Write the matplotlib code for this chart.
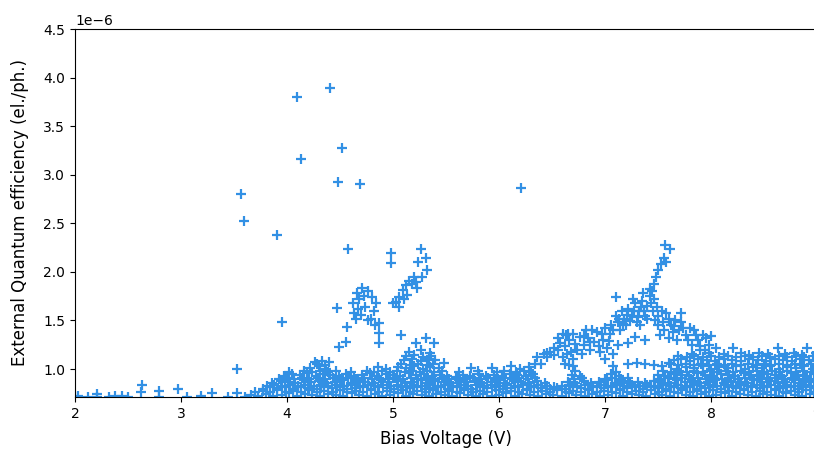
import matplotlib
matplotlib.use("Agg")
import matplotlib.pyplot as plt
import numpy as np

# values, y in units of 1e-6 el./ph.
left_tail = [(2.00, 0.71), (2.03, 0.72), (2.12, 0.71), (2.21, 0.74), (2.21, 0.71), (2.32, 0.71),
             (2.38, 0.72), (2.44, 0.72), (2.50, 0.71), (2.62, 0.76), (2.63, 0.84), (2.79, 0.77),
             (2.79, 0.71), (2.97, 0.79), (3.06, 0.71), (3.19, 0.72), (3.29, 0.75), (3.44, 0.71),
             (3.53, 0.75), (3.60, 0.71)]

outliers = [(3.57, 2.80), (3.59, 2.52), (3.53, 1.00), (3.91, 2.38), (3.95, 1.48), (4.09, 3.80),
            (4.13, 3.16), (4.41, 3.89), (4.52, 3.27), (4.48, 2.93), (4.69, 2.90), (4.58, 2.24),
            (4.47, 1.63), (4.57, 1.43), (4.49, 1.23), (4.56, 1.28), (6.21, 2.86)]

band_row1 = [(3.66, 0.73), (3.73, 0.72), (3.80, 0.74), (3.87, 0.72), (3.95, 0.73), (4.02, 0.75),
             (4.09, 0.72), (4.17, 0.74), (4.24, 0.73), (4.31, 0.72), (4.39, 0.74), (4.46, 0.73),
             (4.53, 0.72), (4.61, 0.75), (4.68, 0.73), (4.75, 0.72), (4.83, 0.74), (4.90, 0.72),
             (4.97, 0.73), (5.05, 0.75), (5.12, 0.72), (5.19, 0.74), (5.27, 0.73), (5.34, 0.72),
             (5.41, 0.74), (5.49, 0.73), (5.56, 0.72), (5.63, 0.75), (5.71, 0.73), (5.78, 0.72),
             (5.85, 0.74), (5.93, 0.72), (6.00, 0.73), (6.07, 0.75), (6.15, 0.72), (6.22, 0.74),
             (6.29, 0.73), (6.37, 0.72), (6.44, 0.74), (6.51, 0.73), (6.59, 0.72), (6.66, 0.75),
             (6.73, 0.73), (6.81, 0.72), (6.88, 0.74), (6.95, 0.72), (7.03, 0.73), (7.10, 0.75),
             (7.17, 0.72), (7.25, 0.74), (7.32, 0.73), (7.39, 0.72), (7.47, 0.74), (7.54, 0.73),
             (7.61, 0.72), (7.69, 0.75), (7.76, 0.73), (7.83, 0.72), (7.91, 0.74), (7.98, 0.72),
             (8.05, 0.73), (8.13, 0.75), (8.20, 0.72), (8.27, 0.74), (8.35, 0.73), (8.42, 0.72),
             (8.49, 0.74), (8.57, 0.73), (8.64, 0.72), (8.71, 0.75), (8.79, 0.73), (8.86, 0.72),
             (8.93, 0.74), (9.01, 0.72)]

band_row1b = [(3.70, 0.76), (3.77, 0.77), (3.84, 0.76), (3.91, 0.78), (3.99, 0.76), (4.06, 0.77),
              (4.13, 0.76), (4.21, 0.78), (4.28, 0.76), (4.35, 0.77), (4.43, 0.76), (4.50, 0.78),
              (4.57, 0.76), (4.65, 0.77), (4.72, 0.76), (4.79, 0.78), (4.87, 0.76), (4.94, 0.77),
              (5.01, 0.76), (5.09, 0.78), (5.16, 0.76), (5.23, 0.77), (5.31, 0.76), (5.38, 0.78),
              (5.45, 0.76), (5.53, 0.77), (5.60, 0.76), (5.67, 0.78), (5.75, 0.76), (5.82, 0.77),
              (5.89, 0.76), (5.97, 0.78), (6.04, 0.76), (6.11, 0.77), (6.19, 0.76), (6.26, 0.78),
              (6.33, 0.76), (6.41, 0.77), (6.48, 0.76), (6.55, 0.78), (6.63, 0.76), (6.70, 0.77),
              (6.77, 0.76), (6.85, 0.78), (6.92, 0.76), (6.99, 0.77), (7.07, 0.76), (7.14, 0.78),
              (7.21, 0.76), (7.29, 0.77), (7.36, 0.76), (7.43, 0.78), (7.51, 0.76), (7.58, 0.77),
              (7.65, 0.76), (7.73, 0.78), (7.80, 0.76), (7.87, 0.77), (7.95, 0.76), (8.02, 0.78),
              (8.09, 0.76), (8.17, 0.77), (8.24, 0.76), (8.31, 0.78), (8.39, 0.76), (8.46, 0.77),
              (8.53, 0.76), (8.61, 0.78), (8.68, 0.76), (8.75, 0.77), (8.83, 0.76), (8.90, 0.78),
              (8.97, 0.76), (9.05, 0.77)]

band_row2 = [(3.77, 0.79), (3.84, 0.81), (3.91, 0.80), (3.98, 0.82), (4.06, 0.79), (4.13, 0.81),
             (4.20, 0.80), (4.28, 0.79), (4.35, 0.82), (4.42, 0.80), (4.50, 0.81), (4.57, 0.79),
             (4.64, 0.80), (4.72, 0.82), (4.79, 0.79), (4.86, 0.81), (4.94, 0.80), (5.01, 0.79),
             (5.08, 0.82), (5.16, 0.80), (5.23, 0.81), (5.30, 0.79), (5.38, 0.80), (5.45, 0.82),
             (5.52, 0.79), (5.60, 0.81), (5.67, 0.80), (5.74, 0.79), (5.82, 0.82), (5.89, 0.80),
             (5.96, 0.81), (6.04, 0.79), (6.11, 0.80), (6.18, 0.82), (6.26, 0.79), (6.33, 0.81),
             (6.40, 0.80), (6.48, 0.79), (6.55, 0.80), (6.62, 0.79), (6.70, 0.81), (6.77, 0.80),
             (6.84, 0.79), (6.92, 0.82), (6.99, 0.80), (7.06, 0.81), (7.14, 0.79), (7.21, 0.80),
             (7.28, 0.82), (7.36, 0.79), (7.43, 0.81), (7.50, 0.80), (7.58, 0.79), (7.65, 0.82),
             (7.72, 0.80), (7.80, 0.81), (7.87, 0.79), (7.94, 0.80), (8.02, 0.82), (8.09, 0.79),
             (8.16, 0.81), (8.24, 0.80), (8.31, 0.79), (8.38, 0.82), (8.46, 0.80), (8.53, 0.81),
             (8.60, 0.79), (8.68, 0.80), (8.75, 0.82), (8.82, 0.79), (8.90, 0.81), (8.97, 0.80),
             (9.04, 0.79)]

band_row2b = [(3.81, 0.83), (3.88, 0.84), (3.95, 0.83), (4.03, 0.84), (4.10, 0.83), (4.17, 0.84),
              (4.25, 0.83), (4.32, 0.84), (4.39, 0.83), (4.47, 0.84), (4.54, 0.83), (4.61, 0.84),
              (4.69, 0.83), (4.76, 0.84), (4.83, 0.83), (4.91, 0.84), (4.98, 0.83), (5.05, 0.84),
              (5.13, 0.83), (5.20, 0.84), (5.27, 0.83), (5.35, 0.84), (5.42, 0.83), (5.49, 0.84),
              (5.57, 0.83), (5.64, 0.84), (5.71, 0.83), (5.79, 0.84), (5.86, 0.83), (5.93, 0.84),
              (6.01, 0.83), (6.08, 0.84), (6.15, 0.83), (6.23, 0.84), (6.30, 0.83), (6.37, 0.84),
              (6.45, 0.83), (6.52, 0.82), (6.59, 0.83), (6.67, 0.84), (6.74, 0.83), (6.81, 0.84),
              (6.89, 0.83), (6.96, 0.84), (7.03, 0.83), (7.11, 0.84), (7.18, 0.83), (7.25, 0.84),
              (7.33, 0.83), (7.40, 0.84), (7.47, 0.83), (7.55, 0.84), (7.62, 0.83), (7.69, 0.84),
              (7.77, 0.83), (7.84, 0.84), (7.91, 0.83), (7.99, 0.84), (8.06, 0.83), (8.13, 0.84),
              (8.21, 0.83), (8.28, 0.84), (8.35, 0.83), (8.43, 0.84), (8.50, 0.83), (8.57, 0.84),
              (8.65, 0.83), (8.72, 0.84), (8.79, 0.83), (8.87, 0.84), (8.94, 0.83), (9.01, 0.84),
              (9.08, 0.83)]

band_row3 = [(3.86, 0.86), (3.94, 0.88), (4.01, 0.87), (4.08, 0.86), (4.16, 0.89), (4.23, 0.87),
             (4.30, 0.88), (4.38, 0.86), (4.45, 0.87), (4.52, 0.89), (4.60, 0.86), (4.67, 0.88),
             (4.74, 0.87), (4.82, 0.86), (4.89, 0.89), (4.96, 0.87), (5.04, 0.88), (5.11, 0.86),
             (5.18, 0.87), (5.26, 0.89), (5.33, 0.86), (5.40, 0.88), (5.48, 0.87), (5.55, 0.86),
             (5.62, 0.89), (5.70, 0.87), (5.77, 0.88), (5.84, 0.86), (5.92, 0.87), (5.99, 0.89),
             (6.06, 0.86), (6.14, 0.88), (6.21, 0.87), (6.28, 0.86), (6.36, 0.88), (6.43, 0.86),
             (6.65, 0.87), (6.72, 0.86), (6.80, 0.88), (6.87, 0.86), (6.94, 0.87), (7.02, 0.89),
             (7.09, 0.86), (7.16, 0.88), (7.24, 0.86), (7.31, 0.87), (7.38, 0.86), (7.46, 0.88),
             (7.53, 0.87), (7.60, 0.86), (7.68, 0.89), (7.75, 0.87), (7.82, 0.88), (7.90, 0.86),
             (7.97, 0.87), (8.04, 0.89), (8.12, 0.86), (8.19, 0.88), (8.26, 0.87), (8.34, 0.86),
             (8.41, 0.89), (8.48, 0.87), (8.56, 0.88), (8.63, 0.86), (8.70, 0.87), (8.78, 0.89),
             (8.85, 0.86), (8.92, 0.88), (9.00, 0.87), (9.07, 0.86)]

band_row3b = [(3.92, 0.90), (3.99, 0.91), (4.07, 0.90), (4.14, 0.91), (4.21, 0.90), (4.29, 0.91),
              (4.36, 0.90), (4.43, 0.91), (4.51, 0.90), (4.58, 0.91), (4.65, 0.90), (4.73, 0.91),
              (4.80, 0.90), (4.87, 0.91), (4.95, 0.90), (5.02, 0.91), (5.09, 0.90), (5.17, 0.91),
              (5.24, 0.90), (5.31, 0.91), (5.39, 0.90), (5.46, 0.91), (5.53, 0.90), (5.61, 0.91),
              (5.68, 0.90), (5.75, 0.91), (5.83, 0.90), (5.90, 0.91), (5.97, 0.90), (6.05, 0.91),
              (6.12, 0.90), (6.19, 0.91), (6.27, 0.90), (6.34, 0.91), (6.71, 0.90), (6.78, 0.91),
              (7.00, 0.90), (7.07, 0.91), (7.15, 0.90), (7.22, 0.91), (7.51, 0.90), (7.59, 0.91),
              (7.66, 0.90), (7.73, 0.91), (7.81, 0.90), (7.88, 0.91), (7.95, 0.90), (8.03, 0.91),
              (8.10, 0.90), (8.17, 0.91), (8.25, 0.90), (8.32, 0.91), (8.39, 0.90), (8.47, 0.91),
              (8.54, 0.90), (8.61, 0.91), (8.69, 0.90), (8.76, 0.91), (8.83, 0.90), (8.91, 0.91),
              (8.98, 0.90), (9.05, 0.91)]

band_row4 = [(3.97, 0.93), (4.05, 0.95), (4.12, 0.94), (4.19, 0.96), (4.27, 0.93), (4.34, 0.95),
             (4.41, 0.94), (4.49, 0.93), (4.56, 0.95), (4.63, 0.93), (4.71, 0.94), (4.78, 0.96),
             (4.85, 0.93), (4.93, 0.95), (5.00, 0.94), (5.07, 0.93), (5.15, 0.96), (5.22, 0.94),
             (5.29, 0.95), (5.37, 0.93), (5.44, 0.94), (5.51, 0.93), (5.59, 0.92), (5.66, 0.94),
             (5.73, 0.93), (5.81, 0.95), (5.88, 0.93), (5.95, 0.94), (6.03, 0.93), (6.10, 0.95),
             (6.17, 0.94), (6.25, 0.93), (6.32, 0.95), (6.69, 0.94), (6.76, 0.93), (7.06, 0.95),
             (7.13, 0.93), (7.50, 0.94), (7.57, 0.93), (7.65, 0.95), (7.72, 0.94), (7.79, 0.93),
             (7.87, 0.96), (7.94, 0.94), (8.01, 0.93), (8.09, 0.95), (8.16, 0.94), (8.23, 0.93),
             (8.31, 0.96), (8.38, 0.94), (8.45, 0.93), (8.53, 0.95), (8.60, 0.94), (8.67, 0.93),
             (8.75, 0.96), (8.82, 0.94), (8.89, 0.93), (8.97, 0.95), (9.04, 0.94)]

band_row4b = [(4.02, 0.97), (4.16, 0.98), (4.24, 0.97), (4.31, 0.98), (4.39, 0.97), (4.46, 0.98),
              (4.60, 0.97), (4.75, 0.98), (4.82, 0.97), (4.90, 0.98), (4.97, 0.97), (5.04, 0.98),
              (5.11, 0.97), (5.18, 0.98), (5.25, 0.97), (5.32, 0.98), (5.39, 0.97), (5.46, 0.98),
              (5.62, 0.97), (5.80, 0.98), (5.98, 0.97), (6.05, 0.98), (6.16, 0.97), (6.24, 0.98),
              (6.30, 0.97), (6.72, 0.98), (7.10, 0.97), (7.55, 0.98), (7.62, 0.97), (7.70, 0.98),
              (7.77, 0.97), (7.84, 0.98), (7.92, 0.97), (7.99, 0.98), (8.06, 0.97), (8.14, 0.98),
              (8.21, 0.97), (8.28, 0.98), (8.36, 0.97), (8.43, 0.98), (8.50, 0.97), (8.58, 0.98),
              (8.65, 0.97), (8.72, 0.98), (8.80, 0.97), (8.87, 0.98), (8.94, 0.97), (9.02, 0.98),
              (9.09, 0.97)]

band_row5 = [(4.22, 1.01), (4.30, 1.03), (4.37, 1.00), (4.86, 1.02), (4.93, 1.00), (5.05, 1.02),
             (5.12, 1.01), (5.20, 1.03), (5.28, 1.00), (5.35, 1.02), (5.43, 1.01), (5.48, 1.06),
             (5.74, 1.01), (5.93, 1.01), (6.11, 1.03), (6.20, 1.00), (6.28, 1.02), (6.34, 1.05),
             (6.62, 1.05), (6.70, 1.03), (7.08, 1.03), (7.22, 1.05), (7.30, 1.06), (7.38, 1.05),
             (7.46, 1.04), (7.54, 1.03), (7.60, 1.06), (7.68, 1.00), (7.76, 1.02), (7.84, 1.01),
             (7.92, 1.03), (8.00, 1.00), (8.08, 1.02), (8.16, 1.01), (8.24, 1.03), (8.32, 1.00),
             (8.40, 1.02), (8.48, 1.01), (8.56, 1.03), (8.64, 1.00), (8.72, 1.02), (8.80, 1.01),
             (8.88, 1.03), (8.96, 1.00), (9.04, 1.02)]

band_row5b = [(4.28, 1.05), (4.36, 1.04), (5.08, 1.05), (5.16, 1.04), (5.24, 1.05), (5.32, 1.04),
              (5.38, 1.05), (6.40, 1.05), (6.66, 1.04), (7.62, 1.05), (7.69, 1.04), (7.76, 1.05),
              (7.84, 1.04), (7.91, 1.05), (7.98, 1.04), (8.06, 1.05), (8.13, 1.04), (8.20, 1.05),
              (8.28, 1.04), (8.35, 1.05), (8.42, 1.04), (8.50, 1.05), (8.57, 1.04), (8.64, 1.05),
              (8.72, 1.04), (8.79, 1.05), (8.86, 1.04), (8.94, 1.05), (9.01, 1.04), (9.08, 1.05)]

band_row6 = [(4.26, 1.07), (4.33, 1.08), (4.40, 1.07), (5.10, 1.09), (5.18, 1.10), (5.26, 1.08),
             (5.34, 1.10), (5.40, 1.09), (6.36, 1.12), (6.42, 1.15), (6.48, 1.18), (6.56, 1.20),
             (6.64, 1.15), (6.70, 1.10), (7.65, 1.09), (7.72, 1.10), (7.80, 1.08), (7.88, 1.10),
             (7.96, 1.09), (8.04, 1.08), (8.12, 1.10), (8.20, 1.09), (8.28, 1.08), (8.36, 1.10),
             (8.44, 1.09), (8.52, 1.08), (8.60, 1.10), (8.68, 1.09), (8.76, 1.08), (8.84, 1.10),
             (8.92, 1.09), (9.00, 1.08)]

band_row6b = [(5.12, 1.13), (5.20, 1.14), (5.28, 1.12), (5.36, 1.13), (6.45, 1.12), (6.52, 1.14),
              (6.60, 1.12), (7.69, 1.13), (7.77, 1.12), (7.84, 1.13), (7.92, 1.12), (8.00, 1.13),
              (8.08, 1.12), (8.16, 1.13), (8.24, 1.12), (8.32, 1.13), (8.40, 1.12), (8.48, 1.13),
              (8.56, 1.12), (8.64, 1.13), (8.72, 1.12), (8.80, 1.13), (8.88, 1.12), (8.96, 1.13),
              (9.04, 1.12)]

band_row7 = [(5.15, 1.18), (5.22, 1.27), (5.31, 1.32), (5.39, 1.27), (5.08, 1.35), (5.26, 1.20),
             (5.35, 1.17), (7.82, 1.15), (7.90, 1.20), (7.98, 1.16), (8.05, 1.22), (8.12, 1.15),
             (8.21, 1.22), (8.28, 1.16), (8.36, 1.14), (8.45, 1.17), (8.54, 1.15), (8.63, 1.22),
             (8.70, 1.15), (8.78, 1.17), (8.86, 1.14), (8.91, 1.22), (8.99, 1.16), (9.06, 1.18)]

arc_470 = [(4.71, 1.83), (4.66, 1.78), (4.76, 1.80), (4.62, 1.68), (4.68, 1.72), (4.73, 1.75),
           (4.80, 1.74), (4.84, 1.68), (4.63, 1.58), (4.67, 1.62), (4.70, 1.56), (4.74, 1.64),
           (4.79, 1.52), (4.82, 1.60), (4.87, 1.47), (4.83, 1.45), (4.87, 1.37), (4.87, 1.27),
           (4.76, 1.50), (4.65, 1.52)]

arc_510 = [(4.98, 2.19), (4.98, 2.09), (5.26, 2.24), (5.31, 2.14), (5.24, 2.10), (5.32, 2.02),
           (5.27, 1.95), (5.20, 1.95), (5.15, 1.91), (5.12, 1.86), (5.23, 1.83), (5.09, 1.81),
           (5.13, 1.76), (5.06, 1.74), (5.03, 1.69), (5.00, 1.68), (5.06, 1.64), (5.18, 1.88),
           (5.10, 1.72), (5.22, 1.90)]

peak_region = [(6.45, 1.16), (6.52, 1.22), (6.58, 1.27), (6.63, 1.35), (6.66, 1.30), (6.70, 1.36),
               (6.56, 1.32), (6.60, 1.36), (6.78, 1.15), (6.80, 1.25), (6.84, 1.32), (6.86, 1.20),
               (6.90, 1.28), (6.92, 1.38), (6.95, 1.18), (6.98, 1.30), (7.00, 1.42), (7.02, 1.22),
               (6.88, 1.40), (6.82, 1.40), (6.76, 1.33), (6.72, 1.26), (7.06, 1.45), (7.10, 1.55),
               (7.12, 1.48), (7.16, 1.60), (7.18, 1.52), (7.20, 1.45), (7.22, 1.62), (7.25, 1.55),
               (7.28, 1.68), (7.30, 1.48), (7.32, 1.60), (7.35, 1.70), (7.38, 1.55), (7.40, 1.65),
               (7.42, 1.75), (7.45, 1.60), (7.47, 1.50), (7.10, 1.74), (7.26, 1.72), (7.33, 1.45),
               (7.14, 1.40), (7.05, 1.36), (7.22, 1.27), (7.38, 1.30), (7.28, 1.33), (7.12, 1.25),
               (7.36, 1.78), (7.42, 1.82), (7.46, 1.88), (7.48, 1.95), (7.50, 2.02), (7.53, 2.08),
               (7.56, 2.14), (7.58, 2.10), (7.57, 2.28), (7.61, 2.24), (7.44, 1.80), (7.50, 1.55),
               (7.55, 1.48), (7.58, 1.58), (7.62, 1.45), (7.66, 1.50), (7.70, 1.40), (7.72, 1.58),
               (7.72, 1.48), (7.76, 1.35), (7.80, 1.42), (7.84, 1.40), (7.88, 1.30), (7.92, 1.35),
               (7.95, 1.32), (8.00, 1.34), (7.98, 1.25), (7.64, 1.38), (7.68, 1.30), (7.56, 1.40),
               (7.60, 1.32), (7.50, 1.45), (7.52, 1.35), (6.65, 1.36), (7.00, 1.10), (7.08, 1.15),
               (6.62, 1.24), (6.68, 1.18), (6.74, 1.20), (6.80, 1.34), (6.86, 1.28), (6.94, 1.24),
               (6.97, 1.36), (7.04, 1.29), (7.08, 1.40), (7.13, 1.52), (7.17, 1.46), (7.21, 1.56),
               (7.24, 1.49), (7.27, 1.60), (7.31, 1.54), (7.34, 1.64), (7.37, 1.60), (7.40, 1.52),
               (7.43, 1.68), (7.46, 1.72), (7.49, 1.64), (7.54, 1.60), (7.60, 1.52), (7.65, 1.44),
               (7.74, 1.42), (7.78, 1.30), (7.82, 1.25), (7.86, 1.35), (7.90, 1.24), (7.94, 1.20)]

groups = [left_tail, outliers, band_row1, band_row1b, band_row2, band_row2b, band_row3,
          band_row3b, band_row4, band_row4b, band_row5, band_row5b, band_row6, band_row6b,
          band_row7, arc_470, arc_510, peak_region]
points = np.array([p for g in groups for p in g])
bias_v = points[:, 0]
eqe = points[:, 1] * 1e-6

fig = plt.figure(figsize=(8.14, 4.5), dpi=100)
ax = fig.add_axes([75 / 814, 53 / 450, 742 / 814, 368 / 450])
ax.scatter(bias_v, eqe, marker='+', s=55, linewidths=1.6, color='#3290e4')
ax.set_xlim(2, 9)
ax.set_ylim(0.712e-6, 4.5e-6)
ax.set_xlabel('Bias Voltage (V)', fontsize=12, labelpad=7)
ax.set_ylabel('External Quantum efficiency (el./ph.)', fontsize=12, labelpad=10)
fig.savefig('out.png', dpi=100)
